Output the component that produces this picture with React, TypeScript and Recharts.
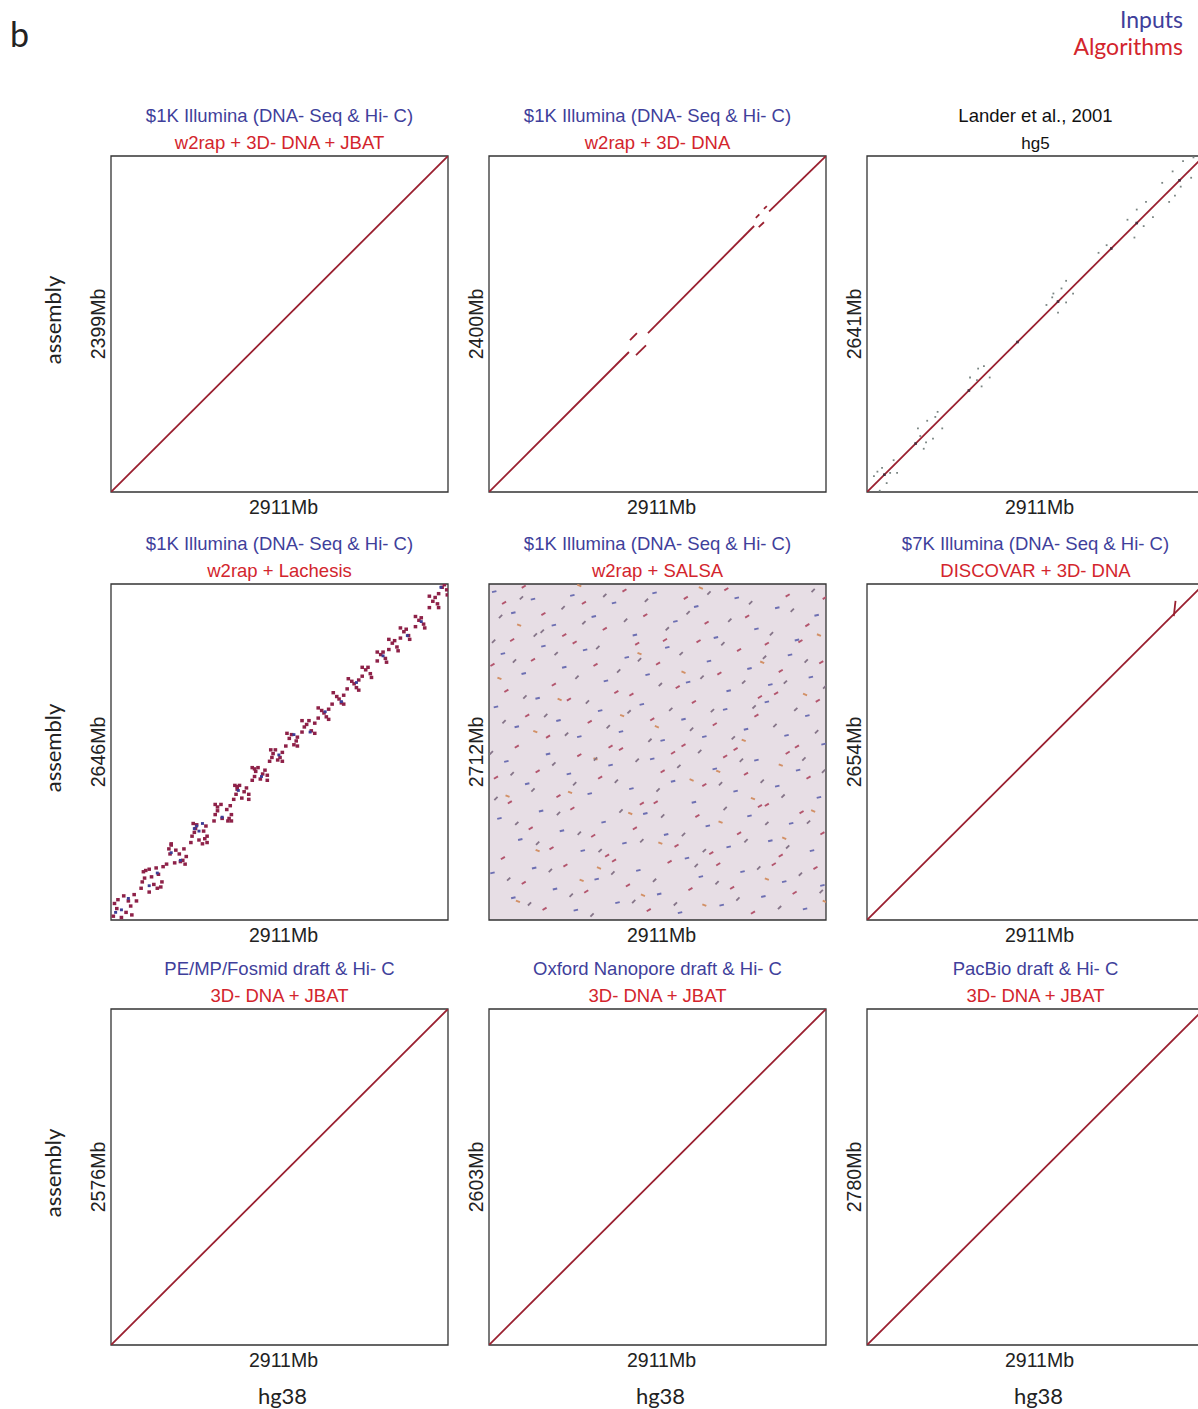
import React from 'react';
import { ComposedChart, Line, Scatter, XAxis, YAxis, ReferenceArea, CartesianGrid } from 'recharts';

type Pt = [number, number];

const REF_MB = 2911;

const inputLabels = [
  '$1K Illumina (DNA- Seq & Hi- C)', '$1K Illumina (DNA- Seq & Hi- C)', 'Lander et al., 2001',
  '$1K Illumina (DNA- Seq & Hi- C)', '$1K Illumina (DNA- Seq & Hi- C)', '$7K Illumina (DNA- Seq & Hi- C)',
  'PE/MP/Fosmid draft & Hi- C', 'Oxford Nanopore draft & Hi- C', 'PacBio draft & Hi- C',
];
const algorithmLabels = [
  'w2rap + 3D- DNA + JBAT', 'w2rap + 3D- DNA', 'hg5',
  'w2rap + Lachesis', 'w2rap + SALSA', 'DISCOVAR + 3D- DNA',
  '3D- DNA + JBAT', '3D- DNA + JBAT', '3D- DNA + JBAT',
];
// assembly length (y axis), Mb
const assemblyMb = [2399, 2400, 2641, 2646, 2712, 2654, 2576, 2603, 2780];

// alignment segments along the diagonal, [hg38 Mb, assembly Mb]
const w2rapJbatSegs: Pt[][] = [[[0, 0], [2911, 2399]]];
const w2rap3dSegs: Pt[][] = [
  [[0, 0], [1209, 1000]],
  [[1218, 1085], [1278, 1135]],
  [[1270, 978], [1356, 1048]],
  [[1373, 1135], [2290, 1900]],
  [[2305, 1958], [2335, 1983]],
  [[2375, 2022], [2400, 2042]],
  [[2330, 1892], [2375, 1927]],
  [[2420, 2005], [2911, 2400]],
];
const hg5Segs: Pt[][] = [[[0, 0], [2911, 2641]]];
const discovarSegs: Pt[][] = [[[0, 0], [2911, 2654]], [[2650, 2400], [2665, 2520]]];
const fosmidSegs: Pt[][] = [[[0, 0], [2911, 2576]]];
const nanoporeSegs: Pt[][] = [[[0, 0], [2911, 2603]]];
const pacbioSegs: Pt[][] = [[[0, 0], [2911, 2780]]];

// hg5 off-diagonal alignments
const hg5Scatter: Pt[] = [
  [60, 125], [110, 10], [130, 190], [170, 70], [200, 150], [230, 250], [90, 160], [260, 150],
  [440, 500], [490, 340], [520, 560], [570, 420], [610, 630], [650, 500], [510, 390], [590, 590], [460, 440],
  [890, 900], [950, 880], [990, 830], [1010, 990], [1060, 900], [960, 970],
  [1550, 1470], [1600, 1530], [1650, 1410], [1680, 1600], [1720, 1490], [1720, 1660], [1610, 1560], [1780, 1560],
  [2000, 1880], [2070, 1940],
  [2250, 2140], [2310, 2000], [2330, 2220], [2390, 2090], [2410, 2280], [2470, 2160],
  [2550, 2430], [2610, 2280], [2640, 2520], [2710, 2400], [2730, 2600], [2800, 2470], [2820, 2630], [2880, 2520], [2660, 2330],
];
const hg5OnLine: Pt[] = [
  [150, 136], [420, 381], [880, 798], [1300, 1179], [1650, 1497], [2110, 1914], [2330, 2114], [2700, 2450],
];

// Lachesis: clustered blocks along the diagonal
const lachesisRed: Pt[] = [
  [20, 30], [50, 90], [90, 20], [130, 60], [170, 110], [60, 160], [110, 190], [150, 150], [200, 200], [30, 130], [180, 40], [220, 150],
  [260, 250], [290, 330], [330, 220], [370, 280], [410, 360], [300, 390], [350, 340], [430, 260], [450, 420], [270, 300], [390, 410],
  [480, 440], [510, 520], [550, 450], [590, 520], [630, 560], [520, 590], [600, 460], [650, 500], [560, 550],
  [690, 610], [720, 690], [760, 630], [800, 700], [830, 660], [740, 750], [790, 600], [700, 660], [820, 740],
  [890, 780], [920, 860], [960, 800], [1000, 870], [1040, 830], [950, 910], [1010, 780], [900, 830], [1030, 900],
  [1060, 950], [1090, 1030], [1130, 960], [1170, 1040], [1190, 990], [1110, 1060], [1150, 1010], [1080, 990],
  [1220, 1100], [1250, 1170], [1290, 1110], [1330, 1180], [1350, 1140], [1270, 1200], [1310, 1150], [1240, 1130],
  [1370, 1250], [1400, 1310], [1440, 1260], [1480, 1320], [1420, 1340], [1460, 1280], [1390, 1280],
  [1510, 1370], [1540, 1430], [1580, 1380], [1610, 1440], [1560, 1460], [1600, 1410],
  [1650, 1480], [1690, 1540], [1730, 1490], [1760, 1550], [1710, 1570], [1670, 1520],
  [1790, 1590], [1820, 1650], [1860, 1600], [1880, 1660], [1840, 1630],
  [1910, 1700], [1950, 1760], [1990, 1710], [2010, 1770], [1970, 1740],
  [2040, 1820], [2080, 1880], [2120, 1830], [2140, 1890], [2100, 1860],
  [2170, 1920], [2200, 1970], [2240, 1940], [2220, 1990],
  [2300, 2040], [2330, 2090], [2370, 2060], [2350, 2110],
  [2400, 2130], [2430, 2180], [2470, 2150], [2450, 2200],
  [2500, 2220], [2530, 2270], [2570, 2240], [2550, 2290],
  [2630, 2310], [2660, 2360], [2700, 2330], [2680, 2380],
  [2750, 2460], [2780, 2510], [2820, 2490], [2800, 2540],
  [2830, 2570], [2860, 2620], [2900, 2600], [2880, 2640], [2905, 2560],
  // spread across the diagonal
  [330, 400], [400, 250], [280, 380], [440, 300],
  [520, 600], [640, 440], [500, 560], [620, 470],
  [710, 760], [830, 610], [730, 720], [810, 640],
  [900, 910], [1040, 780], [920, 890], [1020, 800],
  [1070, 1060], [1190, 950], [1090, 1050],
  [1220, 1200], [1350, 1100], [1240, 1190],
  [1380, 1340], [1480, 1250],
  [1520, 1470], [1610, 1370],
  [1650, 1570], [1760, 1470],
  [1790, 1670], [1880, 1580],
  [1920, 1790], [2010, 1700],
  [2050, 1900], [2140, 1810],
  [2170, 1990], [2250, 1910],
  [2300, 2110], [2380, 2030],
  [2400, 2210], [2480, 2120],
  [2500, 2300], [2580, 2210],
  [2630, 2390], [2710, 2300],
  [2750, 2550], [2830, 2460],
];
const lachesisBlue: Pt[] = [
  [90, 80], [150, 170], [40, 60], [330, 270], [400, 370], [520, 530], [600, 470], [760, 700], [740, 740], [790, 760],
  [720, 720], [960, 810], [1100, 1020], [1300, 1130], [1450, 1300], [1580, 1460], [1720, 1480], [1850, 1640],
  [1990, 1720], [2120, 1870], [2350, 2080], [2560, 2240], [2850, 2620], [2680, 2350],
];

// SALSA: alignments scattered over the whole plane
const salsaBlue: Pt[] = [
  [45, 2650], [210, 2480], [380, 2590], [560, 2380], [720, 2620], [905, 2450], [1080, 2560], [1260, 2300], [1430, 2640],
  [1610, 2410], [1790, 2530], [1960, 2280], [2140, 2600], [2310, 2350], [2490, 2520], [2660, 2260], [2830, 2460],
  [120, 2150], [300, 1990], [470, 2210], [650, 2040], [830, 2180], [1010, 1930], [1190, 2120], [1370, 1980],
  [1540, 2200], [1720, 1920], [1900, 2090], [2070, 1850], [2250, 2030], [2430, 1900], [2600, 2140], [2780, 1960],
  [60, 1720], [240, 1560], [420, 1790], [600, 1610], [780, 1480], [960, 1690], [1140, 1520], [1320, 1740],
  [1500, 1450], [1680, 1620], [1860, 1480], [2040, 1700], [2220, 1540], [2400, 1760], [2570, 1490], [2750, 1650], [2890, 1420],
  [150, 1280], [330, 1100], [510, 1340], [690, 1180], [870, 1020], [1050, 1250], [1230, 1060], [1410, 1300],
  [1590, 1120], [1770, 950], [1950, 1220], [2130, 1040], [2310, 1290], [2490, 1080], [2670, 1210], [2850, 990],
  [90, 820], [270, 650], [450, 880], [630, 720], [810, 560], [990, 790], [1170, 620], [1350, 860],
  [1530, 690], [1710, 500], [1890, 760], [2070, 590], [2250, 840], [2430, 640], [2610, 780], [2790, 560],
  [30, 380], [210, 180], [390, 420], [570, 250], [750, 80], [930, 330], [1110, 140], [1290, 400], [1470, 210],
  [1650, 60], [1830, 350], [2010, 120], [2190, 390], [2370, 190], [2550, 310], [2730, 90], [2880, 280],
];
const salsaRed: Pt[] = [
  [130, 2560], [300, 2690], [470, 2470], [650, 2300], [820, 2560], [1000, 2350], [1170, 2660], [1350, 2460], [1520, 2260],
  [1700, 2600], [1880, 2400], [2050, 2670], [2230, 2450], [2400, 2230], [2580, 2620], [2750, 2380], [2900, 2600],
  [30, 2060], [200, 2260], [380, 2100], [560, 1900], [740, 2240], [920, 2060], [1100, 1840], [1280, 2230], [1460, 2070],
  [1630, 1880], [1810, 2250], [1990, 1990], [2160, 2180], [2340, 1800], [2520, 2010], [2690, 2250], [2870, 2080],
  [150, 1850], [330, 1650], [510, 1480], [690, 1780], [870, 1600], [1050, 1400], [1230, 1820], [1410, 1620],
  [1590, 1350], [1770, 1760], [1950, 1580], [2130, 1380], [2310, 1650], [2480, 1830], [2660, 1400], [2840, 1770],
  [60, 1150], [240, 1400], [420, 1200], [600, 1000], [780, 1330], [960, 1150], [1140, 1380], [1320, 940],
  [1500, 1200], [1680, 1410], [1860, 1090], [2040, 1320], [2220, 1180], [2400, 930], [2580, 1350], [2760, 1150],
  [180, 950], [360, 740], [540, 580], [720, 900], [900, 680], [1080, 480], [1260, 740], [1440, 950],
  [1620, 600], [1800, 840], [1980, 450], [2160, 700], [2340, 920], [2520, 520], [2700, 870], [2880, 700],
  [120, 500], [300, 300], [480, 90], [660, 440], [840, 230], [1020, 520], [1200, 280], [1380, 80],
  [1560, 470], [1740, 250], [1920, 540], [2100, 260], [2280, 60], [2460, 450], [2640, 220], [2820, 420],
];
const salsaOrange: Pt[] = [
  [260, 2380], [780, 2700], [1300, 2150], [1830, 2680], [2360, 2080], [2850, 2300], [90, 1950], [610, 1780],
  [1150, 1650], [1680, 2000], [2200, 1450], [2730, 1820], [400, 1520], [920, 1300], [1450, 1560], [1980, 1200],
  [2520, 1250], [160, 1000], [700, 1030], [1220, 860], [1750, 1130], [2280, 980], [2800, 880], [420, 560],
  [950, 420], [1480, 620], [2000, 790], [2550, 660], [250, 150], [800, 320], [1330, 200], [1860, 120], [2400, 330], [2900, 150],
];
const salsaDark: Pt[] = [
  [100, 2450], [280, 2600], [460, 2330], [640, 2520], [820, 2400], [1000, 2620], [1180, 2420], [1360, 2580], [1540, 2350],
  [1720, 2480], [1900, 2640], [2080, 2420], [2260, 2560], [2440, 2310], [2620, 2500], [2800, 2660],
  [40, 2250], [220, 2090], [400, 2300], [580, 2150], [760, 1960], [940, 2200], [1120, 2010], [1300, 2100], [1480, 1900],
  [1660, 2150], [1840, 1960], [2020, 2230], [2200, 1920], [2380, 2120], [2560, 1920], [2740, 2090], [2900, 1880],
  [130, 1600], [310, 1800], [490, 1650], [670, 1500], [850, 1760], [1030, 1560], [1210, 1680], [1390, 1450],
  [1570, 1700], [1750, 1540], [1930, 1690], [2110, 1470], [2290, 1720], [2470, 1570], [2650, 1700], [2830, 1520],
  [20, 1350], [200, 1180], [380, 1050], [560, 1260], [740, 1100], [920, 1300], [1100, 1120], [1280, 1290], [1460, 1050],
  [1640, 1240], [1820, 1360], [2000, 1100], [2180, 1290], [2360, 1120], [2540, 1000], [2720, 1300], [2890, 1200],
  [60, 980], [240, 780], [420, 620], [600, 860], [780, 700], [960, 560], [1140, 880], [1320, 640],
  [1500, 840], [1680, 690], [1860, 560], [2040, 900], [2220, 640], [2400, 780], [2580, 590], [2760, 790],
  [170, 330], [350, 130], [530, 400], [710, 200], [890, 40], [1070, 380], [1250, 150], [1430, 320],
  [1610, 130], [1790, 440], [1970, 300], [2150, 170], [2330, 420], [2510, 100], [2690, 370], [2870, 230],
];

const BLUE = '#3f3f9b';
const RED = '#d3252d';
const LINE = '#9a2030';
const SANS = '"Liberation Sans", Arial, sans-serif';
const HUMAN = 'Lato, "Open Sans", sans-serif';

const colLeft = [111, 489, 867];
const rowTop = [156, 584, 1009];
const BOX_W = 337;
const BOX_H = 336;

// dx/dy: half-length of the little dash drawn per alignment
type DotSet = { pts: Pt[]; color: string; dx: number; dy: number; sw: number };

const toXY = (pts: Pt[]) => pts.map(([x, y]) => ({ x, y }));

const dashShape = (d: DotSet) => (props: any) => (
  <line
    x1={props.cx - d.dx}
    y1={props.cy + d.dy}
    x2={props.cx + d.dx}
    y2={props.cy - d.dy}
    stroke={d.color}
    strokeWidth={d.sw}
    strokeLinecap="butt"
  />
);

const panelSegs: Pt[][][] = [
  w2rapJbatSegs, w2rap3dSegs, hg5Segs,
  [], [], discovarSegs,
  fosmidSegs, nanoporeSegs, pacbioSegs,
];

const panelDots: DotSet[][] = [
  [], [],
  [
    { pts: hg5Scatter, color: '#7a8583', dx: 0.9, dy: 0, sw: 1.8 },
    { pts: hg5OnLine, color: '#4a2a3a', dx: 1.3, dy: 0, sw: 2.6 },
  ],
  [
    { pts: lachesisRed, color: '#8e2148', dx: 1.8, dy: 0, sw: 3.4 },
    { pts: lachesisBlue, color: '#3b3d96', dx: 1.5, dy: 0, sw: 2.8 },
  ],
  [
    { pts: salsaBlue, color: '#6d6fb2', dx: 2.2, dy: 0.5, sw: 1.9 },
    { pts: salsaRed, color: '#b3556d', dx: 2, dy: 1.2, sw: 1.9 },
    { pts: salsaOrange, color: '#d29066', dx: 2, dy: -0.8, sw: 1.9 },
    { pts: salsaDark, color: '#857488', dx: 1.6, dy: 1.6, sw: 1.8 },
  ],
  [], [], [], [],
];

function DotPlot({ idx }: { idx: number }) {
  const col = idx % 3;
  const row = Math.floor(idx / 3);
  const yMax = assemblyMb[idx];
  const noisy = idx === 4;
  return (
    <div style={{ position: 'absolute', left: colLeft[col] - 2, top: rowTop[row] - 2 }}>
      <ComposedChart width={BOX_W + 4} height={BOX_H + 4} margin={{ top: 2, right: 2, bottom: 2, left: 2 }}>
        {noisy && <CartesianGrid horizontal={false} vertical={false} fill="#e7dee5" />}
        <XAxis type="number" dataKey="x" domain={[0, REF_MB]} hide allowDataOverflow />
        <YAxis type="number" dataKey="y" domain={[0, yMax]} hide allowDataOverflow />
        {panelDots[idx].map((d, k) => (
          <Scatter
            key={`d${k}`}
            data={toXY(d.pts)}
            dataKey="y"
            fill={d.color}
            shape={dashShape(d)}
            isAnimationActive={false}
          />
        ))}
        {panelSegs[idx].map((seg, k) => (
          <Line
            key={`s${k}`}
            data={toXY(seg)}
            dataKey="y"
            type="linear"
            stroke={LINE}
            strokeWidth={1.8}
            dot={false}
            activeDot={false}
            isAnimationActive={false}
          />
        ))}
        <ReferenceArea x1={0} x2={REF_MB} y1={0} y2={yMax} fill="none" stroke="#333" strokeWidth={1.3} ifOverflow="visible" />
      </ComposedChart>
    </div>
  );
}

export default function App() {
  const idxs = [0, 1, 2, 3, 4, 5, 6, 7, 8];
  return (
    <div style={{ position: 'relative', width: 1198, height: 1409, overflow: 'hidden', background: '#fff' }}>
      <style>{'body{margin:0}'}</style>
      {idxs.map((i) => (
        <DotPlot key={i} idx={i} />
      ))}
      <svg width={1198} height={1409} style={{ position: 'absolute', left: 0, top: 0, pointerEvents: 'none' }}>
        <text x={10} y={47} fontSize={34} fontFamily={HUMAN} fill="#222">b</text>
        <text x={1183} y={28} fontSize={23} fontFamily={HUMAN} fill={BLUE} textAnchor="end">Inputs</text>
        <text x={1183} y={55} fontSize={23} fontFamily={HUMAN} fill={RED} textAnchor="end">Algorithms</text>
        {idxs.map((i) => {
          const col = i % 3;
          const row = Math.floor(i / 3);
          const cx = colLeft[col] + BOX_W / 2;
          const top = rowTop[row];
          const plain = i === 2;
          const ymid = top + BOX_H / 2;
          const ylx = colLeft[col] - 13;
          return (
            <g key={i}>
              <text x={cx} y={top - 34} fontSize={18.5} fontFamily={SANS} fill={plain ? '#111' : BLUE} textAnchor="middle">
                {inputLabels[i]}
              </text>
              <text x={cx} y={top - 7} fontSize={plain ? 17 : 18.5} fontFamily={SANS} fill={plain ? '#111' : RED} textAnchor="middle">
                {algorithmLabels[i]}
              </text>
              <text x={cx + 4} y={top + BOX_H + 22} fontSize={19.5} fontFamily={SANS} fill="#222" textAnchor="middle">
                2911Mb
              </text>
              <text
                x={ylx}
                y={ymid}
                fontSize={19.5}
                fontFamily={SANS}
                fill="#222"
                textAnchor="middle"
                dominantBaseline="central"
                transform={`rotate(-90 ${ylx} ${ymid})`}
              >
                {`${assemblyMb[i]}Mb`}
              </text>
            </g>
          );
        })}
        {rowTop.map((t, r) => (
          <text
            key={`a${r}`}
            x={52}
            y={t + BOX_H / 2 - 4}
            fontSize={22}
            fontFamily={HUMAN}
            fill="#222"
            textAnchor="middle"
            dominantBaseline="central"
            transform={`rotate(-90 52 ${t + BOX_H / 2 - 4})`}
          >
            assembly
          </text>
        ))}
        {colLeft.map((l, c) => (
          <text key={`h${c}`} x={l + BOX_W / 2 + 3} y={1404} fontSize={22} fontFamily={HUMAN} fill="#222" textAnchor="middle">
            hg38
          </text>
        ))}
      </svg>
    </div>
  );
}
